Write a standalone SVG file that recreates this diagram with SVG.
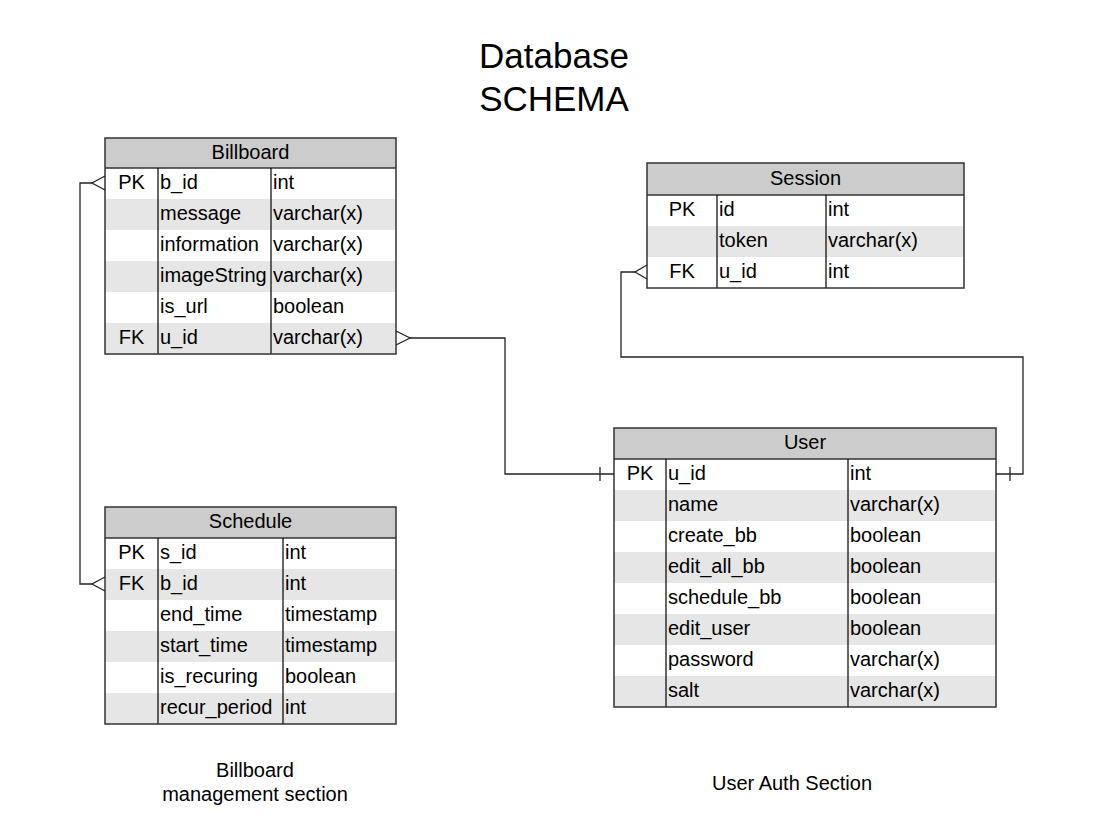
<svg xmlns="http://www.w3.org/2000/svg" width="1120" height="836" viewBox="0 0 1120 836">
<style>
text{font-family:"Liberation Sans",Arial,sans-serif;fill:#000}
.t{font-size:20px}
.h{font-size:20px;text-anchor:middle}
.k{font-size:20px;text-anchor:middle}
.title{font-size:35px;text-anchor:middle}
.lbl{font-size:20px;text-anchor:middle}
.hdr{fill:#cccccc}
.alt{fill:#e6e6e6}
.box{fill:none;stroke:#333333;stroke-width:1.5}
.div{stroke:#000;stroke-width:1.2}
.hl{stroke:#333333;stroke-width:1.5}
.c{fill:none;stroke:#222;stroke-width:1.3}
</style>
<rect width="1120" height="836" fill="#fff"/>
<text class="title" x="554" y="68">Database</text>
<text class="title" x="554" y="111">SCHEMA</text>
<text class="lbl" x="255" y="777">Billboard</text>
<text class="lbl" x="255" y="801">management section</text>
<text class="lbl" x="792" y="790">User Auth Section</text>

<g id="billboard">
<rect class="hdr" x="105" y="138" width="291" height="30"/>
<rect class="alt" x="105" y="199" width="291" height="31"/>
<rect class="alt" x="105" y="261" width="291" height="31"/>
<rect class="alt" x="105" y="323" width="291" height="31"/>
<line class="hl" x1="105" y1="168" x2="396" y2="168"/>
<line class="div" x1="158" y1="168" x2="158" y2="354"/>
<line class="div" x1="271" y1="168" x2="271" y2="354"/>
<rect class="box" x="105" y="138" width="291" height="216"/>
<text class="h" x="250.5" y="159">Billboard</text>
<text class="k" x="131.5" y="189">PK</text>
<text class="k" x="131.5" y="344">FK</text>
<text class="t" x="160" y="189">b_id</text>
<text class="t" x="160" y="220">message</text>
<text class="t" x="160" y="251">information</text>
<text class="t" x="160" y="282">imageString</text>
<text class="t" x="160" y="313">is_url</text>
<text class="t" x="160" y="344">u_id</text>
<text class="t" x="273" y="189">int</text>
<text class="t" x="273" y="220">varchar(x)</text>
<text class="t" x="273" y="251">varchar(x)</text>
<text class="t" x="273" y="282">varchar(x)</text>
<text class="t" x="273" y="313">boolean</text>
<text class="t" x="273" y="344">varchar(x)</text>
</g>

<g id="session">
<rect class="hdr" x="647" y="163" width="317" height="32"/>
<rect class="alt" x="647" y="226" width="317" height="31"/>
<line class="hl" x1="647" y1="195" x2="964" y2="195"/>
<line class="div" x1="717" y1="195" x2="717" y2="288"/>
<line class="div" x1="826" y1="195" x2="826" y2="288"/>
<rect class="box" x="647" y="163" width="317" height="125"/>
<text class="h" x="805.5" y="185">Session</text>
<text class="k" x="682" y="216">PK</text>
<text class="k" x="682" y="278">FK</text>
<text class="t" x="719" y="216">id</text>
<text class="t" x="719" y="247">token</text>
<text class="t" x="719" y="278">u_id</text>
<text class="t" x="828" y="216">int</text>
<text class="t" x="828" y="247">varchar(x)</text>
<text class="t" x="828" y="278">int</text>
</g>

<g id="user">
<rect class="hdr" x="614" y="428" width="382" height="31"/>
<rect class="alt" x="614" y="490" width="382" height="31"/>
<rect class="alt" x="614" y="552" width="382" height="31"/>
<rect class="alt" x="614" y="614" width="382" height="31"/>
<rect class="alt" x="614" y="676" width="382" height="31"/>
<line class="hl" x1="614" y1="459" x2="996" y2="459"/>
<line class="div" x1="666" y1="459" x2="666" y2="707"/>
<line class="div" x1="848" y1="459" x2="848" y2="707"/>
<rect class="box" x="614" y="428" width="382" height="279"/>
<text class="h" x="805" y="449">User</text>
<text class="k" x="640" y="480">PK</text>
<text class="t" x="668" y="480">u_id</text>
<text class="t" x="668" y="511">name</text>
<text class="t" x="668" y="542">create_bb</text>
<text class="t" x="668" y="573">edit_all_bb</text>
<text class="t" x="668" y="604">schedule_bb</text>
<text class="t" x="668" y="635">edit_user</text>
<text class="t" x="668" y="666">password</text>
<text class="t" x="668" y="697">salt</text>
<text class="t" x="850" y="480">int</text>
<text class="t" x="850" y="511">varchar(x)</text>
<text class="t" x="850" y="542">boolean</text>
<text class="t" x="850" y="573">boolean</text>
<text class="t" x="850" y="604">boolean</text>
<text class="t" x="850" y="635">boolean</text>
<text class="t" x="850" y="666">varchar(x)</text>
<text class="t" x="850" y="697">varchar(x)</text>
</g>

<g id="schedule">
<rect class="hdr" x="105" y="507" width="291" height="31"/>
<rect class="alt" x="105" y="569" width="291" height="31"/>
<rect class="alt" x="105" y="631" width="291" height="31"/>
<rect class="alt" x="105" y="693" width="291" height="31"/>
<line class="hl" x1="105" y1="538" x2="396" y2="538"/>
<line class="div" x1="158" y1="538" x2="158" y2="724"/>
<line class="div" x1="283" y1="538" x2="283" y2="724"/>
<rect class="box" x="105" y="507" width="291" height="217"/>
<text class="h" x="250.5" y="528">Schedule</text>
<text class="k" x="131.5" y="559">PK</text>
<text class="k" x="131.5" y="590">FK</text>
<text class="t" x="160" y="559">s_id</text>
<text class="t" x="160" y="590">b_id</text>
<text class="t" x="160" y="621">end_time</text>
<text class="t" x="160" y="652">start_time</text>
<text class="t" x="160" y="683">is_recuring</text>
<text class="t" x="160" y="714">recur_period</text>
<text class="t" x="285" y="559">int</text>
<text class="t" x="285" y="590">int</text>
<text class="t" x="285" y="621">timestamp</text>
<text class="t" x="285" y="652">timestamp</text>
<text class="t" x="285" y="683">boolean</text>
<text class="t" x="285" y="714">int</text>
</g>

<g id="connectors">
<path class="c" d="M410,338 H505 V474 H614"/>
<path class="c" d="M396,331 L410,338 L396,345"/>
<path class="c" d="M600,467 V481"/>
<path class="c" d="M635,272 H621 V357 H1023 V474 H996"/>
<path class="c" d="M647,265 L635,272 L647,279"/>
<path class="c" d="M1010,467 V481"/>
<path class="c" d="M92,183 H80 V584 H92"/>
<path class="c" d="M105,176 L92,183 L105,190"/>
<path class="c" d="M105,577 L92,584 L105,591"/>
</g>
</svg>
